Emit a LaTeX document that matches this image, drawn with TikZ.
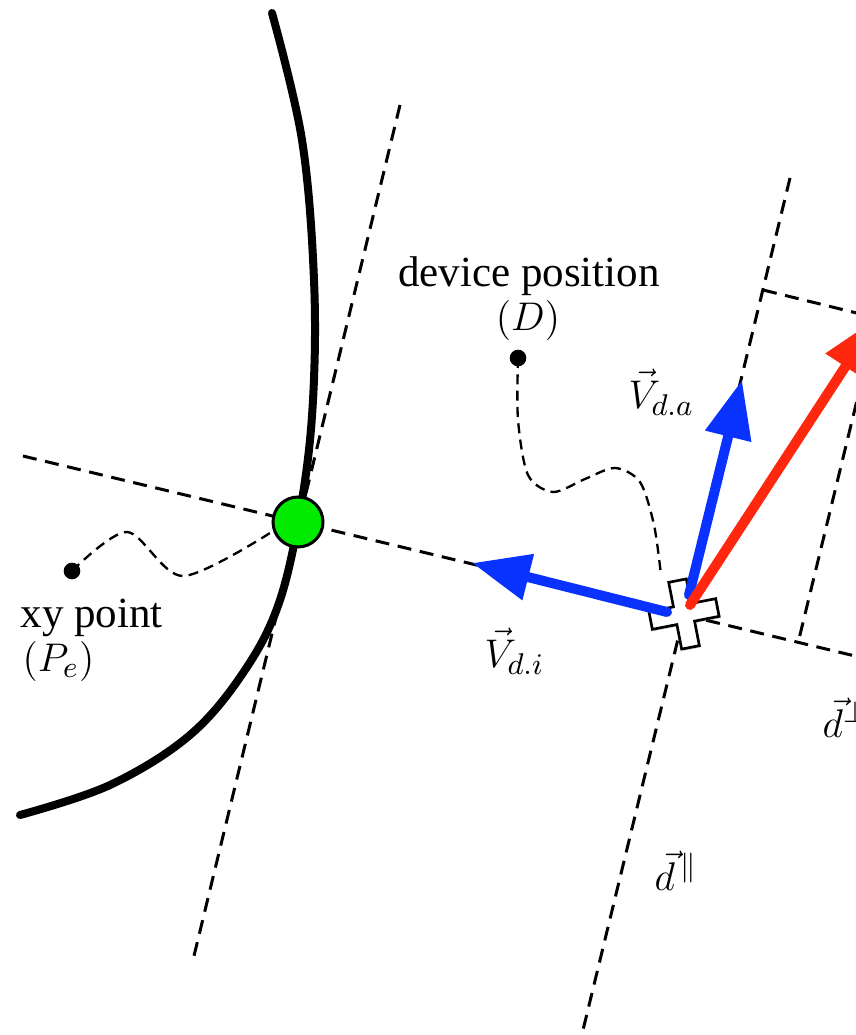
\documentclass[tikz,border=0pt]{standalone}
\usepackage[no-math]{fontspec}
\setmainfont{Liberation Serif}
\usepackage{amsmath, amssymb}
\usetikzlibrary{arrows.meta, shadows}
\definecolor{vecBlue}{RGB}{10, 50, 255}
\definecolor{vecRed}{RGB}{255, 40, 15}
\definecolor{hitGreen}{RGB}{0, 235, 0}

\begin{document}
\begin{tikzpicture}[x=0.3pt, y=-0.3pt, font=\fontsize{12.9}{13.8}\selectfont,
    guide/.style={line width=0.9pt, dash pattern=on 4.2pt off 2.6pt},
    wiggle/.style={line width=0.7pt, dash pattern=on 3pt off 1.9pt},
    vec/.style={line width=3pt, line cap=round, -{Triangle[length=17.4pt, width=13.5pt]}},
    dot/.style={circle, fill=black, inner sep=0pt, minimum size=5pt},
    lbl/.style={inner sep=0pt}]
      \useasboundingbox (0,0) rectangle (856,1035);
      \clip (0,0) rectangle (856,1035);

      \coordinate (cross) at (684,614);
      \coordinate (vdiTail) at (667,612);
      \coordinate (vdiTip) at (472,563);
      \coordinate (vdaTail) at (689,595);
      \coordinate (vdaTip) at (742,380);
      \coordinate (vrTail) at (690,605);
      \coordinate (vrTip) at (877,318);

      \draw[guide] (400,105) -- (193,960);
      \draw[guide] (23,456) -- (880,662);
      \draw[guide] (790,178) -- (583,1030);
      \draw[guide] (763,290) -- (vrTip) -- (798,643);

      \draw[line width=2.4pt, line cap=round] plot[smooth, tension=0.6] coordinates
        {(272,13) (302,140) (314,280) (313,400) (302,500) (280,600)
         (245,670) (190,735) (110,785) (20,815)};

      \node[circle, draw, line width=0.9pt, fill=hitGreen, minimum size=15pt, inner sep=0pt] (hit) at (298,522) {};

      \node[dot] (pe) at (72,571) {};
      \node[dot] (dev) at (518,358) {};
      \draw[wiggle] plot[smooth] coordinates {(pe) (127,532) (183,576) (hit.200)};
      \draw[wiggle] plot[smooth] coordinates
        {(dev) (518,420) (528,475) (553,492) (585,479) (615,468) (640,482) (654,525) (661,575)};

      \begin{scope}[shift={(cross)}, rotate=11]
        \filldraw[fill=white, line width=0.8pt,
          drop shadow={opacity=0.4, shadow xshift=0.5pt, shadow yshift=-0.5pt}]
          (-9,-34) -- (9,-34) -- (9,-9) -- (34,-9) -- (34,9) -- (9,9) -- (9,34)
          -- (-9,34) -- (-9,9) -- (-34,9) -- (-34,-9) -- (-9,-9) -- cycle;
      \end{scope}

      \draw[vec, vecBlue] (vdiTail) -- (vdiTip);
      \draw[vec, vecBlue] (vdaTail) -- (vdaTip);
      \draw[vec, vecRed] (vrTail) -- (vrTip);

      \node[lbl, anchor=base] (devText) at (529,287) {device position};
      \node[lbl, anchor=base] (devSym) at (528,331) {$(D)$};
      \node[lbl, anchor=base west] (peText) at (20,627) {xy point};
      \node[lbl, anchor=base west] (peSym) at (22,671) {$(P_e)$};
      \node[lbl, anchor=base west] (vdaLbl) at (628,408) {$\vec{V}_{d.a}$};
      \node[lbl, anchor=base west] (vdiLbl) at (484,667) {$\vec{V}_{d.i}$};
      \node[lbl, anchor=base west] (parLbl) at (654,890) {$\vec{d}^{\,\parallel}$};
      \node[lbl, anchor=base west] (perpLbl) at (822,737) {$\vec{d}^{\perp}$};
    \end{tikzpicture}
\end{document}
